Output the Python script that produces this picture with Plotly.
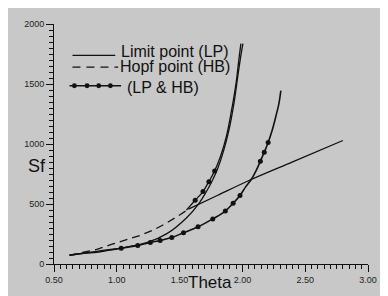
import plotly.graph_objects as go

# ---- data ----
theta_hb = [0.624, 0.733, 0.841, 0.957, 1.066, 1.182, 1.298, 1.399, 1.500, 1.570]
sf_hb = [73, 98, 122, 163, 196, 237, 286, 343, 408, 457]

theta_lp_upper = [1.570, 1.800, 2.066, 2.400, 2.800]
sf_lp_upper = [457, 571, 702, 851, 1029]

theta_lp = [0.624, 0.841, 1.066, 1.244, 1.399, 1.554, 1.655, 1.709, 1.756, 1.802,
            1.849, 1.895, 1.934, 1.965, 1.988, 2.004]
sf_lp = [73, 106, 139, 180, 253, 384, 506, 596, 686, 792,
         939, 1127, 1347, 1576, 1739, 1837]

theta_both_a = [1.554, 1.624, 1.686, 1.733, 1.779, 1.826, 1.872, 1.911, 1.950, 1.973, 1.988]
sf_both_a = [449, 531, 604, 686, 776, 898, 1061, 1265, 1510, 1714, 1837]
marks_a = [1, 2, 3, 4]

theta_both_b = [0.624, 0.740, 0.841, 0.934, 1.035, 1.167, 1.267, 1.345, 1.438, 1.531,
                1.647, 1.764, 1.864, 1.926, 1.981, 2.027, 2.074, 2.112, 2.143, 2.174,
                2.205, 2.236, 2.267, 2.291, 2.306]
sf_both_b = [73, 90, 98, 114, 131, 155, 180, 196, 220, 261,
             310, 376, 441, 506, 571, 645, 710, 784, 857, 931,
             1012, 1110, 1233, 1339, 1445]
marks_b = [4, 5, 6, 7, 8, 9, 10, 11, 12, 13, 14, 18, 19, 20]

x_ticks = [0.5, 1.0, 1.5, 2.0, 2.5, 3.0]
y_ticks = [0, 500, 1000, 1500, 2000]

legend_labels = ["Limit point (LP)", "Hopf point (HB)", "(LP & HB)"]

BG = "#c8c8c8"
INK = "#111111"
LW = 1.3

fig = go.Figure()

# Hopf (dashed) branch
fig.add_trace(go.Scatter(x=theta_hb, y=sf_hb, mode="lines",
                         line=dict(color=INK, width=LW, dash="8px,5px"),
                         showlegend=False, hoverinfo="skip"))
# solid continuation
fig.add_trace(go.Scatter(x=theta_lp_upper, y=sf_lp_upper, mode="lines",
                         line=dict(color=INK, width=LW, shape="spline"),
                         showlegend=False, hoverinfo="skip"))
# Limit point curve
fig.add_trace(go.Scatter(x=theta_lp, y=sf_lp, mode="lines",
                         line=dict(color=INK, width=LW, shape="spline"),
                         showlegend=False, hoverinfo="skip"))
# LP & HB curves (lines)
fig.add_trace(go.Scatter(x=theta_both_a, y=sf_both_a, mode="lines",
                         line=dict(color=INK, width=LW, shape="spline"),
                         showlegend=False, hoverinfo="skip"))
fig.add_trace(go.Scatter(x=theta_both_b, y=sf_both_b, mode="lines",
                         line=dict(color=INK, width=LW + 0.3, shape="spline"),
                         showlegend=False, hoverinfo="skip"))
# LP & HB markers
fig.add_trace(go.Scatter(x=[theta_both_a[i] for i in marks_a],
                         y=[sf_both_a[i] for i in marks_a], mode="markers",
                         marker=dict(color=INK, size=5),
                         showlegend=False, hoverinfo="skip"))
fig.add_trace(go.Scatter(x=[theta_both_b[i] for i in marks_b],
                         y=[sf_both_b[i] for i in marks_b], mode="markers",
                         marker=dict(color=INK, size=5),
                         showlegend=False, hoverinfo="skip"))

# ---- layout geometry (page body has an 8px margin) ----
OFF = 8
W, H = 380, 288
L, R, T, B = 46, 11, 12, 31
pw, ph = W - L - R, H - T - B


def px(xs):
    # screen pixel -> paper x
    return (xs - OFF - L) / pw


def py(ys):
    # screen pixel -> paper y
    return (H - B - (ys - OFF)) / ph


shapes = [
    # legend samples
    dict(type="line", xref="paper", yref="paper", x0=px(73), x1=px(117),
         y0=py(52), y1=py(52), line=dict(color=INK, width=1.2)),
    dict(type="line", xref="paper", yref="paper", x0=px(73), x1=px(120),
         y0=py(64), y1=py(64), line=dict(color=INK, width=1.2, dash="8px,6px")),
    dict(type="line", xref="paper", yref="paper", x0=px(70), x1=px(123),
         y0=py(83), y1=py(83), line=dict(color=INK, width=1.6)),
]
for cx in [75, 88, 100, 112]:
    shapes.append(dict(type="circle", xref="paper", yref="paper",
                       x0=px(cx - 2.5), x1=px(cx + 2.5), y0=py(83 + 2.5), y1=py(83 - 2.5),
                       fillcolor=INK, line=dict(width=0)))

FONT_TXT = "Arial, Liberation Sans, sans-serif"

annotations = [
    dict(text=legend_labels[0], xref="paper", yref="paper", x=px(121), y=py(48),
         xanchor="left", yanchor="middle", showarrow=False,
         font=dict(family=FONT_TXT, size=16, color=INK)),
    dict(text=legend_labels[1], xref="paper", yref="paper", x=px(120), y=py(63),
         xanchor="left", yanchor="middle", showarrow=False,
         font=dict(family=FONT_TXT, size=16, color=INK)),
    dict(text=legend_labels[2], xref="paper", yref="paper", x=px(127), y=py(85),
         xanchor="left", yanchor="middle", showarrow=False,
         font=dict(family=FONT_TXT, size=16, color=INK)),
    dict(text="Sf", xref="paper", yref="paper", x=px(36), y=py(165),
         xanchor="center", yanchor="middle", showarrow=False,
         font=dict(family=FONT_TXT, size=18, color=INK)),
    dict(text="Theta", xref="paper", yref="paper", x=px(214), y=py(284),
         xanchor="center", yanchor="middle", showarrow=False,
         font=dict(family=FONT_TXT, size=17, color=INK)),
]

axis_common = dict(showgrid=False, zeroline=False, showline=True, linecolor=INK,
                   linewidth=1, ticks="outside", ticklen=7, tickwidth=1,
                   tickcolor=INK, tickfont=dict(family=FONT_TXT, size=9, color="#222222"))

fig.update_layout(
    width=W, height=H,
    margin=dict(l=L, r=R, t=T, b=B, pad=0),
    paper_bgcolor=BG, plot_bgcolor=BG,
    shapes=shapes, annotations=annotations,
    showlegend=False,
    xaxis=dict(range=[0.5, 3.0], tickvals=x_ticks,
               ticktext=[f"{v:.2f}" for v in x_ticks],
               minor=dict(dtick=0.05, ticklen=4, tickcolor=INK, ticks="outside", showgrid=False),
               **axis_common),
    yaxis=dict(range=[0, 2000], tickvals=y_ticks,
               ticktext=[str(v) for v in y_ticks],
               minor=dict(dtick=50, ticklen=4, tickcolor=INK, ticks="outside", showgrid=False),
               **axis_common),
)

fig.write_html("out.html")
